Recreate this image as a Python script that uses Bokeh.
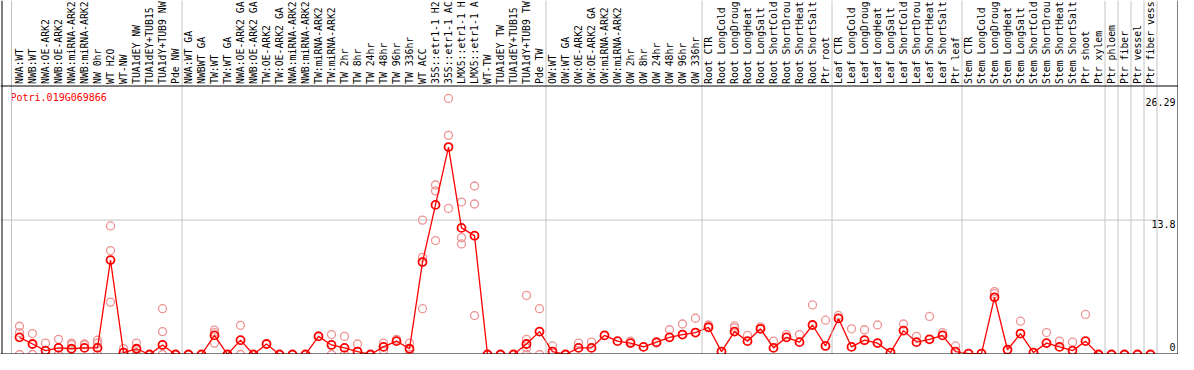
from math import pi
from bokeh.plotting import figure
from bokeh.models import Range1d, Span
from bokeh.core.properties import value
from bokeh.embed import file_html
from bokeh.resources import INLINE

gene = "Potri.019G069866"

samples = [
    "NWA:WT", "NWB:WT", "NWA:OE-ARK2", "NWB:OE-ARK2", "NWA:miRNA-ARK2", "NWB:miRNA-ARK2",
    "NW 0hr", "WT H2O", "WT-NW", "TUA1dEY NW", "TUA1dEY+TUB15 NW", "TUA1dY+TUB9 NW", "Pde NW",
    "NWA:WT GA", "NWBWT GA", "TW:WT", "TW:WT GA", "NWA:OE-ARK2 GA", "NWB:OE-ARK2 GA",
    "TW:OE-ARK2", "TW:OE-ARK2 GA", "NWA:miRNA-ARK2", "NWB:miRNA-ARK2", "TW:miRNA-ARK2",
    "TW:miRNA-ARK2", "TW 2hr", "TW 8hr", "TW 24hr", "TW 48hr", "TW 96hr", "TW 336hr", "WT ACC",
    "35S::etr1-1 H2O", "35S::etr1-1 ACC", "LMX5::etr1-1 H2O", "LMX5::etr1-1 ACC", "WT-TW",
    "TUA1dEY TW", "TUA1dEY+TUB15 TW", "TUA1dY+TUB9 TW", "Pde TW",
    "OW:WT", "OW:WT GA", "OW:OE-ARK2", "OW:OE-ARK2 GA", "OW:miRNA-ARK2", "OW:miRNA-ARK2",
    "OW 2hr", "OW 8hr", "OW 24hr", "OW 48hr", "OW 96hr", "OW 336hr",
    "Root CTR", "Root LongCold", "Root LongDrought", "Root LongHeat", "Root LongSalt",
    "Root ShortCold", "Root ShortDrought", "Root ShortHeat", "Root ShortSalt", "Ptr root",
    "Leaf CTR", "Leaf LongCold", "Leaf LongDrought", "Leaf LongHeat", "Leaf LongSalt",
    "Leaf ShortCold", "Leaf ShortDrought", "Leaf ShortHeat", "Leaf ShortSalt", "Ptr leaf",
    "Stem CTR", "Stem LongCold", "Stem LongDrought", "Stem LongHeat", "Stem LongSalt",
    "Stem ShortCold", "Stem ShortDrought", "Stem ShortHeat", "Stem ShortSalt", "Ptr shoot",
    "Ptr xylem", "Ptr phloem", "Ptr fiber", "Ptr vessel", "Ptr fiber vessel",
]

group_sizes = [13, 28, 12, 10, 10, 11, 1, 1, 1, 1]

means = [
    1.76, 1.08, 0.40, 0.68, 0.59, 0.68, 0.68, 9.69, 0.20, 0.59, 0.00, 0.98, 0.00,
    0.00, 0.00, 1.96, 0.00, 1.47, 0.00, 1.08, 0.00, 0.00, 0.00, 1.86, 0.98, 0.68,
    0.30, 0.00, 0.78, 1.37, 0.59, 9.49, 15.36, 21.30, 13.00, 12.20, 0.00, 0.00,
    0.00, 1.08, 2.35,
    0.30, 0.00, 0.68, 0.68, 1.96, 1.37, 1.17, 0.78, 1.27, 1.76, 2.05, 2.25,
    2.80, 0.30, 2.35, 1.37, 2.64, 0.68, 1.76, 1.27, 3.03, 0.88,
    3.70, 0.78, 1.47, 1.17, 0.20, 2.45, 1.27, 1.56, 1.96, 0.30,
    0.10, 0.10, 5.87, 0.49, 2.15, 0.20, 1.17, 0.78, 0.40, 1.37,
    0.00, 0.00, 0.00, 0.00, 0.00,
]

rep_index = [
    0, 0, 0, 1, 1, 2, 3, 3, 4, 4, 5, 5, 6, 6, 6, 7, 7, 7, 8, 9, 9, 11, 11, 11,
    15, 15, 15, 17, 17, 23, 24, 24, 25, 25, 26, 28, 28, 29, 30, 30,
    31, 31, 31, 32, 32, 32, 33, 33, 33, 34, 34, 34, 35, 35, 35,
    39, 39, 39, 39, 40, 40, 41, 43,
    44, 45, 47, 49, 50, 51, 52, 53, 55, 55, 56, 57, 58, 59, 60, 61, 62,
    63, 64, 65, 66, 68, 69, 70, 71, 72, 75, 75, 77, 79, 80, 81, 82,
]
rep_values = [
    2.90, 2.25, 0.00, 2.15, 0.00, 1.17, 1.56, 0.00, 1.17, 1.00, 1.10, 1.00, 1.47, 1.17, 0.00,
    13.20, 10.67, 5.38, 0.60, 1.17, 0.00, 4.70, 2.35, 0.00,
    2.50, 2.25, 1.17, 3.00, 0.00, 1.90, 2.05, 0.00, 1.86, 0.00, 1.08, 1.17, 0.40, 1.56, 1.17, 0.00,
    13.80, 9.98, 4.70, 17.40, 16.80, 11.70, 26.29, 22.50, 15.00, 15.65, 12.00, 11.35,
    17.30, 15.45, 4.00,
    1.56, 6.07, 0.68, 0.00, 4.70, 0.00, 0.88, 1.17,
    1.27, 1.96, 1.37, 1.17, 2.54, 3.13, 3.72, 3.03, 2.93, 2.74, 1.96, 2.84, 1.37, 2.05,
    2.05, 5.09, 3.52, 4.01, 2.64, 2.54, 3.03, 3.13, 1.86, 3.91, 2.25, 0.88, 6.46, 6.26, 3.42,
    2.25, 1.37, 1.27, 4.11,
]

y_ticks = [0, 13.8, 26.29]
tick_text = ["0", "13.8", "26.29"]

# ---- layout (pixels) ----
W, H = 1178, 354
STEP = 13.0          # px per sample
X0 = 19.0            # px of first sample
PPU = 9.74           # px per expression unit
MAXCH = 14           # visible characters of a sample label


def xi(px):
    return (px - X0) / STEP


def yv(px_from_top):
    return (H - px_from_top) / PPU


p = figure(
    width=W, height=H,
    x_range=Range1d(xi(0), xi(W)), y_range=Range1d(0, H / PPU),
    output_backend="svg", toolbar_location=None,
    x_axis_location=None, y_axis_location=None, min_border=0,
)
p.grid.visible = False
p.outline_line_color = None
p.background_fill_color = "white"
p.border_fill_color = "white"

GRAY = "#c4c4c4"
FONT = value("DejaVu Sans Mono")

# group separators
bounds = [xi(11)]
acc = 0
for g in group_sizes:
    acc += g
    bounds.append(acc - 0.5)
for b in bounds:
    p.add_layout(Span(location=b, dimension="height", line_color=GRAY, line_width=1))

# horizontal grid at middle tick
p.segment(x0=[xi(0)], y0=[y_ticks[1]], x1=[xi(1160)], y1=[y_ticks[1]], line_color=GRAY, line_width=1)

# borders
p.add_layout(Span(location=xi(1.5), dimension="height", line_color="black", line_width=1))
p.add_layout(Span(location=xi(W - 0.5), dimension="height", line_color="black", line_width=1))
p.add_layout(Span(location=yv(85.5), dimension="width", line_color="black", line_width=1))
p.add_layout(Span(location=yv(H - 0.5), dimension="width", line_color="black", line_width=1))

# header sample labels (rotated), showing the visible part of each name
idx = list(range(len(samples)))
labels = [s[:MAXCH].rstrip() for s in samples]
p.text(x=idx, y=[yv(83.5)] * len(samples), text=labels, angle=pi / 2,
       text_align="left", text_baseline="middle", text_font=FONT,
       text_font_size="9.8px", text_color="black")

# gene name
p.text(x=[xi(10)], y=[yv(91)], text=[gene], text_align="left", text_baseline="top",
       text_font=FONT, text_font_size="10px", text_color="red")

# y tick labels on the right
p.text(x=[xi(W - 3)] * 3, y=[0.35, y_ticks[1], y_ticks[2]], text=tick_text,
       text_align="right", text_baseline=["bottom", "top", "top"],
       text_font=FONT, text_font_size="10px", text_color="black")

# replicate points
p.scatter(x=rep_index, y=rep_values, marker="circle", size=8,
          fill_color=None, line_color="#ee9494", line_width=1.3)

# mean line + points
p.line(x=idx, y=means, line_color="red", line_width=1.3)
p.scatter(x=idx, y=means, marker="circle", size=8,
          fill_color=None, line_color="red", line_width=1.8)

open("out.html", "w").write(file_html(p, INLINE))
